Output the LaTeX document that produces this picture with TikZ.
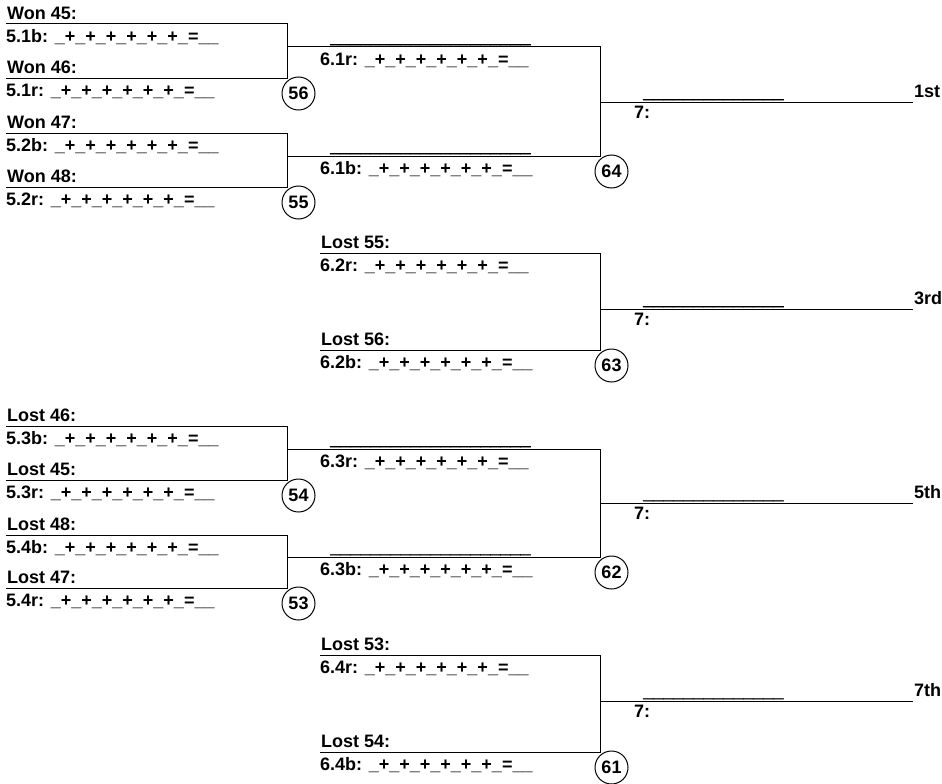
\documentclass[tikz,border=0pt]{standalone}
\usepackage{fontspec}
\setmainfont{Liberation Sans}
\usepackage{tikz}
\usetikzlibrary{positioning}

\newcommand{\bracketfont}{\fontsize{18}{21}\selectfont\bfseries}
\newcommand{\tally}{\_+\_+\_+\_+\_+\_+\_=\_\_}
\newcommand{\longblank}{\_\_\_\_\_\_\_\_\_\_\_\_\_\_\_\_\_\_\_\_}
\newcommand{\shortblank}{\_\_\_\_\_\_\_\_\_\_\_\_\_\_}

\begin{document}
\begin{tikzpicture}[x=1pt, y=-1pt]
  \tikzstyle{wire} = [line width=1pt, black]
  \tikzstyle{slotname} = [anchor=base west, inner sep=0pt, xshift=1pt, yshift=4.5pt, font=\bracketfont]
  \tikzstyle{score} = [anchor=base west, inner sep=0pt, yshift=-18.5pt, font=\bracketfont]
  \tikzstyle{blank} = [anchor=base west, inner sep=0pt, yshift=4pt, font=\bracketfont\addfontfeature{FakeBold=3}]
  \tikzstyle{finalcode} = [anchor=base west, inner sep=0pt, yshift=-16pt, font=\bracketfont]
  \tikzstyle{place} = [anchor=base west, inner sep=0pt, xshift=1pt, yshift=5pt, font=\bracketfont]
  \tikzstyle{game} = [circle, draw, line width=1pt, minimum size=33pt, inner sep=0pt, font=\bracketfont]

  \useasboundingbox (0,0) rectangle (942,784);

  % Round 5: slot lines
  \coordinate (w45) at (6,24);
  \coordinate (w46) at (6,78);
  \coordinate (w47) at (6,133);
  \coordinate (w48) at (6,187);
  \coordinate (l46) at (6,426);
  \coordinate (l45) at (6,480);
  \coordinate (l48) at (6,535);
  \coordinate (l47) at (6,588);
  \coordinate (j56) at (287,78);
  \coordinate (j55) at (287,187);
  \coordinate (j54) at (287,480);
  \coordinate (j53) at (287,588);

  \node [slotname] (n45) at (w45) {Won 45:};
  \node [score] (t51b) at (w45) {5.1b: \tally};
  \node [slotname] (n46) at (w46) {Won 46:};
  \node [score] (t51r) at (w46) {5.1r: \tally};
  \node [slotname] (n47) at (w47) {Won 47:};
  \node [score] (t52b) at (w47) {5.2b: \tally};
  \node [slotname] (n48) at (w48) {Won 48:};
  \node [score] (t52r) at (w48) {5.2r: \tally};
  \node [slotname] (nl46) at (l46) {Lost 46:};
  \node [score] (t53b) at (l46) {5.3b: \tally};
  \node [slotname] (nl45) at (l45) {Lost 45:};
  \node [score] (t53r) at (l45) {5.3r: \tally};
  \node [slotname] (nl48) at (l48) {Lost 48:};
  \node [score] (t54b) at (l48) {5.4b: \tally};
  \node [slotname] (nl47) at (l47) {Lost 47:};
  \node [score] (t54r) at (l47) {5.4r: \tally};

  \draw[wire] (w45) -| (j56) -- (w46);
  \draw[wire] (w47) -| (j55) -- (w48);
  \draw[wire] (l46) -| (j54) -- (l45);
  \draw[wire] (l48) -| (j53) -- (l47);

  \node [game] (g56) at (298.5,93.5) {56};
  \node [game] (g55) at (298.5,202.5) {55};
  \node [game] (g54) at (298.5,495.5) {54};
  \node [game] (g53) at (298.5,603.5) {53};

  % Round 6: slot lines
  \coordinate (s61r) at (287,47);
  \coordinate (s61b) at (287,156);
  \coordinate (j64) at (600,156);
  \coordinate (s62r) at (320,253);
  \coordinate (s62b) at (320,350);
  \coordinate (j63) at (600,350);
  \coordinate (s63r) at (287,449);
  \coordinate (s63b) at (287,557);
  \coordinate (j62) at (600,557);
  \coordinate (s64r) at (320,655);
  \coordinate (s64b) at (320,752);
  \coordinate (j61) at (600,752);

  \node [blank] (b61r) at (330,47) {\longblank};
  \node [score] (t61r) at (320,47) {6.1r: \tally};
  \node [blank] (b61b) at (330,156) {\longblank};
  \node [score] (t61b) at (320,156) {6.1b: \tally};
  \node [slotname] (nl55) at (s62r) {Lost 55:};
  \node [score] (t62r) at (s62r) {6.2r: \tally};
  \node [slotname] (nl56) at (s62b) {Lost 56:};
  \node [score] (t62b) at (s62b) {6.2b: \tally};
  \node [blank] (b63r) at (330,449) {\longblank};
  \node [score] (t63r) at (320,449) {6.3r: \tally};
  \node [blank] (b63b) at (330,557) {\longblank};
  \node [score] (t63b) at (320,557) {6.3b: \tally};
  \node [slotname] (nl53) at (s64r) {Lost 53:};
  \node [score] (t64r) at (s64r) {6.4r: \tally};
  \node [slotname] (nl54) at (s64b) {Lost 54:};
  \node [score] (t64b) at (s64b) {6.4b: \tally};

  \draw[wire] (s61r) -| (j64) -- (s61b);
  \draw[wire] (s62r) -| (j63) -- (s62b);
  \draw[wire] (s63r) -| (j62) -- (s63b);
  \draw[wire] (s64r) -| (j61) -- (s64b);

  \node [game] (g64) at (611.5,171.5) {64};
  \node [game] (g63) at (611.5,365.5) {63};
  \node [game] (g62) at (611.5,572.5) {62};
  \node [game] (g61) at (611.5,767.5) {61};

  % Round 7: placings
  \coordinate (f1a) at (600,102);
  \coordinate (f1b) at (913,102);
  \coordinate (f3a) at (600,309);
  \coordinate (f3b) at (913,309);
  \coordinate (f5a) at (600,503);
  \coordinate (f5b) at (913,503);
  \coordinate (f7a) at (600,701);
  \coordinate (f7b) at (913,701);

  \draw[wire] (f1a) -- (f1b);
  \draw[wire] (f3a) -- (f3b);
  \draw[wire] (f5a) -- (f5b);
  \draw[wire] (f7a) -- (f7b);

  \node [blank] (b71) at (643,102) {\shortblank};
  \node [finalcode] (c71) at (634,102) {7:};
  \node [place] (p1) at (f1b) {1st};
  \node [blank] (b73) at (643,309) {\shortblank};
  \node [finalcode] (c73) at (634,309) {7:};
  \node [place] (p3) at (f3b) {3rd};
  \node [blank] (b75) at (643,503) {\shortblank};
  \node [finalcode] (c75) at (634,503) {7:};
  \node [place] (p5) at (f5b) {5th};
  \node [blank] (b77) at (643,701) {\shortblank};
  \node [finalcode] (c77) at (634,701) {7:};
  \node [place] (p7) at (f7b) {7th};
\end{tikzpicture}
\end{document}
